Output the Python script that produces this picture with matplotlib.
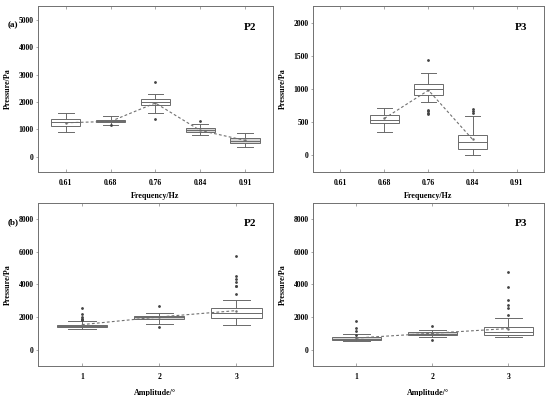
import matplotlib
matplotlib.use("Agg")
from matplotlib import pyplot as plt

plt.rcParams['font.family'] = ['Liberation Serif', 'DejaVu Serif']
plt.rcParams['font.weight'] = 'bold'
plt.rcParams['axes.labelweight'] = 'bold'

# ---- data ----
freq_labels = ['0.61', '0.68', '0.76', '0.84', '0.91']
amp_labels = ['1', '2', '3']

# P2 vs frequency
p2f_pos = [1, 2, 3, 4, 5]
p2f_q1 = [1117, 1250, 1902, 896, 491]
p2f_med = [1250, 1300, 2012, 982, 589]
p2f_q3 = [1374, 1350, 2123, 1043, 675]
p2f_lo = [908, 1141, 1595, 785, 356]
p2f_hi = [1595, 1472, 2294, 1190, 859]
p2f_mean = [1240, 1290, 1960, 960, 600]
p2f_fliers = [[], [1150], [2724, 1387], [1313], []]
p2f_gray = [False, True, False, True, True]

# P3 vs frequency (no data at 0.61 and 0.91)
p3f_pos = [2, 3, 4]
p3f_q1 = [487, 908, 97]
p3f_med = [538, 1000, 205]
p3f_q3 = [605, 1067, 303]
p3f_lo = [354, 810, 5]
p3f_hi = [718, 1236, 590]
p3f_mean = [555, 980, 240]
p3f_fliers = [[], [1436, 677, 667, 641, 626], [697, 667, 640]]
p3f_gray = [False, False, False]

# P2 vs amplitude
p2a_pos = [1, 2, 3]
p2a_q1 = [1367, 1857, 1959]
p2a_med = [1449, 1980, 2245]
p2a_q3 = [1531, 2082, 2530]
p2a_lo = [1245, 1571, 1510]
p2a_hi = [1755, 2265, 3061]
p2a_mean = [1530, 2000, 2390]
p2a_fliers = [[2530, 2184, 1980, 1898, 1857, 1816], [2673, 1367],
              [5714, 4510, 4326, 4122, 3898, 3878, 3408]]
p2a_gray = [True, True, False]

# P3 vs amplitude
p3a_pos = [1, 2, 3]
p3a_q1 = [592, 878, 898]
p3a_med = [673, 980, 1102]
p3a_q3 = [755, 1082, 1408]
p3a_lo = [510, 776, 755]
p3a_hi = [939, 1224, 1939]
p3a_mean = [710, 1000, 1290]
p3a_fliers = [[1755, 1306, 1122, 918], [1429, 612],
              [4755, 3857, 3061, 2714, 2531, 2143]]
p3a_gray = [True, True, False]

EDGE = '#6a6a6a'


def draw_panel(ax, pos, q1, med, q3, lo, hi, mean, fliers, gray):
    stats = []
    for i in range(len(pos)):
        stats.append(dict(q1=q1[i], med=med[i], q3=q3[i], whislo=lo[i],
                          whishi=hi[i], mean=mean[i], fliers=fliers[i]))
    parts = ax.bxp(stats, positions=pos, widths=0.65, capwidths=0.35,
                   patch_artist=True, showmeans=False,
                   boxprops=dict(edgecolor=EDGE, linewidth=0.7),
                   medianprops=dict(color=EDGE, linewidth=0.7),
                   whiskerprops=dict(color=EDGE, linewidth=0.7),
                   capprops=dict(color=EDGE, linewidth=0.7),
                   flierprops=dict(marker='o', markersize=1.0,
                                   markerfacecolor='#444444',
                                   markeredgecolor='#444444'))
    for box, g in zip(parts['boxes'], gray):
        box.set_facecolor('#d6d6d6' if g else 'white')
    ax.plot(pos, mean, color='#707070', linestyle=(0, (2.5, 2)),
            linewidth=0.8, marker='.', markersize=1.5)


def style_axes(ax):
    for s in ax.spines.values():
        s.set_color('#707070')
        s.set_linewidth(0.7)
    ax.tick_params(axis='x', direction='in', top=True, bottom=True,
                   length=2, width=0.6, color='#999999', labelsize=5.5, pad=5)
    ax.tick_params(axis='y', direction='out', length=1.5, width=0.6,
                   color='#999999', labelsize=5.5, pad=1.5)
    ax.yaxis.label.set_size(5.8)
    ax.xaxis.label.set_size(5.8)


fig = plt.figure(figsize=(5.5, 3.96), dpi=100)
ax1 = fig.add_axes([0.069, 0.566, 0.427, 0.419])
ax2 = fig.add_axes([0.569, 0.566, 0.420, 0.419])
ax3 = fig.add_axes([0.069, 0.076, 0.427, 0.412])
ax4 = fig.add_axes([0.569, 0.076, 0.420, 0.412])

draw_panel(ax1, p2f_pos, p2f_q1, p2f_med, p2f_q3, p2f_lo, p2f_hi,
           p2f_mean, p2f_fliers, p2f_gray)
draw_panel(ax2, p3f_pos, p3f_q1, p3f_med, p3f_q3, p3f_lo, p3f_hi,
           p3f_mean, p3f_fliers, p3f_gray)
draw_panel(ax3, p2a_pos, p2a_q1, p2a_med, p2a_q3, p2a_lo, p2a_hi,
           p2a_mean, p2a_fliers, p2a_gray)
draw_panel(ax4, p3a_pos, p3a_q1, p3a_med, p3a_q3, p3a_lo, p3a_hi,
           p3a_mean, p3a_fliers, p3a_gray)

for ax in (ax1, ax2):
    ax.set_xticks(range(1, 6))
    ax.set_xticklabels(freq_labels)
    ax.set_xlim(0.38, 5.62)
    ax.set_xlabel('Frequency/Hz', labelpad=4)
ax1.set_ylim(-550, 5500)
ax1.set_yticks([0, 1000, 2000, 3000, 4000, 5000])
ax2.set_ylim(-250, 2250)
ax2.set_yticks([0, 500, 1000, 1500, 2000])

for ax in (ax3, ax4):
    ax.set_xticks(range(1, 4))
    ax.set_xticklabels(amp_labels)
    ax.set_xlim(0.43, 3.47)
    ax.set_ylim(-1000, 9000)
    ax.set_yticks([0, 2000, 4000, 6000, 8000])
    ax.set_xlabel('Amplitude/°', labelpad=6)

for ax, name in zip((ax1, ax2, ax3, ax4), ('P2', 'P3', 'P2', 'P3')):
    ax.set_ylabel('Pressure/Pa', labelpad=5)
    style_axes(ax)
    ax.text(0.93, 0.87, name, transform=ax.transAxes, ha='right',
            va='center', fontsize=8, fontweight='bold')

fig.text(0.014, 0.937, '(a)', fontsize=6.5, fontweight='bold', va='center')
fig.text(0.014, 0.44, '(b)', fontsize=6.5, fontweight='bold', va='center')

fig.savefig('out.png', dpi=100)
